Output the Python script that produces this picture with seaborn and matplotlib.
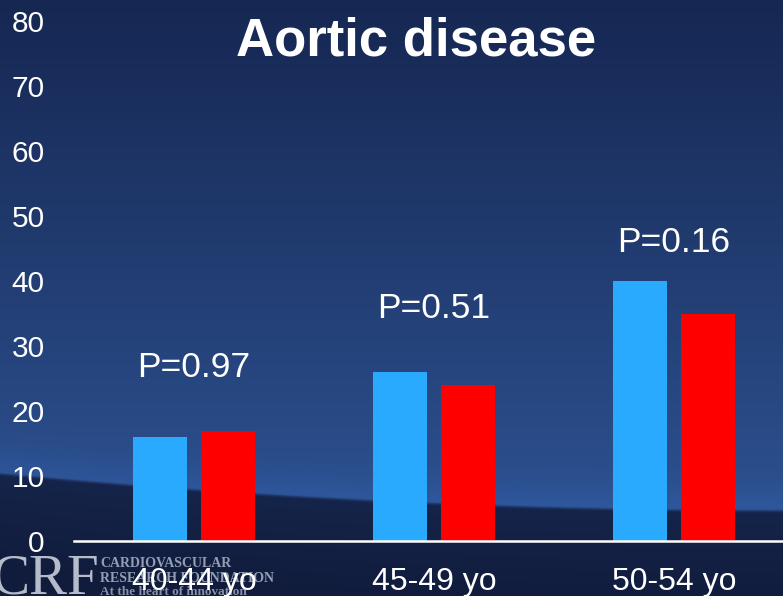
import numpy as np
import pandas as pd
import matplotlib
matplotlib.use("Agg")
import matplotlib.pyplot as plt
import seaborn as sns

# ---- data -------------------------------------------------------------
age_groups = ["40-44 yo", "45-49 yo", "50-54 yo"]
series_names = ["Group 1", "Group 2"]
group_1 = [16, 26, 40]
group_2 = [17, 24, 35]
p_labels = ["P=0.97", "P=0.51", "P=0.16"]
y_ticks = [0, 10, 20, 30, 40, 50, 60, 70, 80]
title = "Aortic disease"

# ---- layout / style ---------------------------------------------------
bar_colors = ["#29aaff", "#ff0000"]
p_label_y = [25.2, 34.3, 44.5]
W, H, DPI = 783, 596, 100

plt.rcParams["font.family"] = ["Liberation Sans", "DejaVu Sans"]

df = pd.DataFrame({
    "age": age_groups * 2,
    "value": group_1 + group_2,
    "series": [series_names[0]] * 3 + [series_names[1]] * 3,
})

fig = plt.figure(figsize=(W / DPI, H / DPI), dpi=DPI)

# slide-style backdrop: navy gradient with a dark horizon band at the bottom
bg = fig.add_axes([0, 0, 1, 1], zorder=-10)
yy, xx = np.mgrid[0:H, 0:W].astype(float)
horizon = 473 + 37 * (1 - (1 - xx / W) ** 2)
t = np.clip(yy / 500.0, 0, 1)[..., None]
top_c = np.array([0x16, 0x27, 0x52]) / 255
mid_c = np.array([0x2c, 0x50, 0x8e]) / 255
upper = top_c + (mid_c - top_c) * t
# faint glow just above the horizon
glow = np.exp(-((horizon - yy) / 25.0) ** 2)[..., None] * (yy < horizon)[..., None]
upper = upper + glow * np.array([0.01, 0.025, 0.05])
s = np.clip((yy - horizon + 2) / 5.0, 0, 1)[..., None]
s = s * s * (3 - 2 * s)
d = np.clip((yy - horizon) / 100.0, 0, 1)[..., None]
low_a = np.array([0x15, 0x24, 0x4a]) / 255
low_b = np.array([0x11, 0x1c, 0x3c]) / 255
lower = low_a + (low_b - low_a) * d
img = upper * (1 - s) + lower * s
bg.imshow(np.clip(img, 0, 1), aspect="auto", extent=[0, 1, 0, 1], origin="upper")
bg.set_axis_off()

ax = fig.add_axes([74 / W, 55 / H, 1 - 74 / W, 520 / H])
ax.patch.set_alpha(0)

sns.barplot(data=df, x="age", y="value", hue="series", palette=bar_colors,
            width=0.567, gap=0.206, saturation=1, legend=False, ax=ax,
            errorbar=None, linewidth=0)

ax.set_xlim(-0.5, 2.454)
ax.set_ylim(0, 80)
ax.set_yticks(y_ticks)
ax.set_yticklabels([str(v) for v in y_ticks])
ax.set_xlabel("")
ax.set_ylabel("")
for side in ["left", "top", "right"]:
    ax.spines[side].set_visible(False)
ax.spines["bottom"].set_color("white")
ax.spines["bottom"].set_linewidth(1.8)
ax.spines["bottom"].set_zorder(5)
ax.tick_params(axis="y", length=0, pad=21, labelsize=21.5, labelcolor="white")
ax.tick_params(axis="x", length=0, pad=18.5, labelsize=23, labelcolor="white")

for i, txt in enumerate(p_labels):
    ax.text(i, p_label_y[i], txt, ha="center", va="baseline",
            fontsize=25.5, color="white")

fig.text(416 / W, 1 - 55 / H, title, ha="center", va="baseline",
         fontsize=38, fontweight="bold", color="white")

# organisation logo in the lower-left corner, beneath the chart layer
logo_z = -5
fig.text(-8 / W, (H - 594) / H, "CRF", ha="left", va="baseline",
         fontsize=41, color="#c8cedb", alpha=0.9, family="Liberation Serif",
         zorder=logo_z)
fig.text(100 / W, (H - 567) / H, "CARDIOVASCULAR", ha="left", va="baseline",
         fontsize=10, fontweight="bold", color="#949db3",
         family="Liberation Serif", zorder=logo_z)
fig.text(100 / W, (H - 582) / H, "RESEARCH FOUNDATION", ha="left",
         va="baseline", fontsize=10, fontweight="bold", color="#949db3",
         family="Liberation Serif", zorder=logo_z)
fig.text(100 / W, (H - 595) / H, "At the heart of innovation", ha="left",
         va="baseline", fontsize=9.5, fontweight="bold", color="#8891a7",
         family="Liberation Serif", zorder=logo_z)

fig.savefig("out.png", dpi=DPI)
